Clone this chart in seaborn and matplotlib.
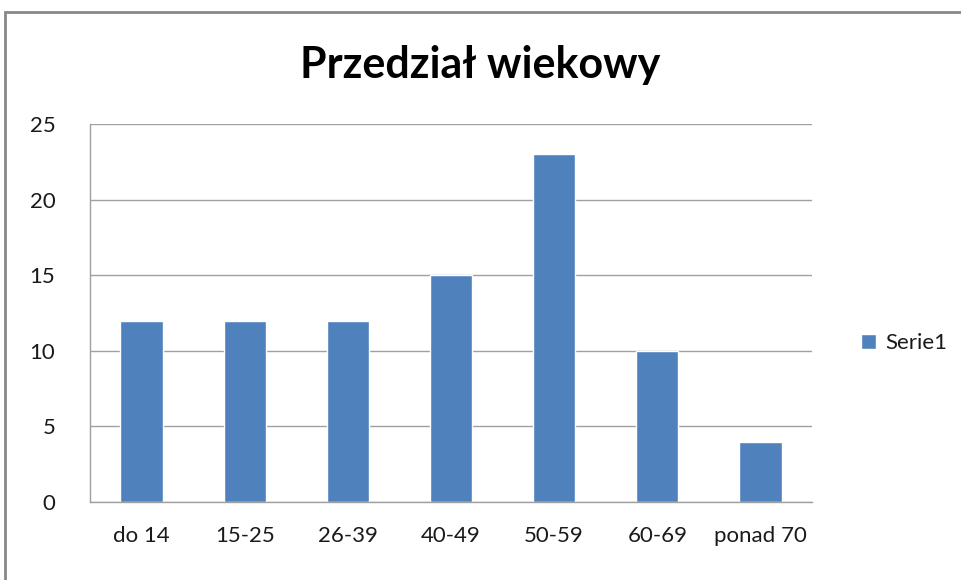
import matplotlib
matplotlib.use("Agg")
import matplotlib.pyplot as plt
import seaborn as sns
import pandas as pd
from matplotlib.patches import Rectangle

# data
categories = ['do 14', '15-25', '26-39', '40-49', '50-59', '60-69', 'ponad 70']
values = [12, 12, 12, 15, 23, 10, 4]
series_name = 'Serie1'

df = pd.DataFrame({'kategoria': categories, 'wartosc': values, 'seria': series_name})

sns.set_style('white')
plt.rcParams['font.family'] = ['Lato', 'DejaVu Sans']

fig = plt.figure(figsize=(9.61, 5.80), dpi=100)
ax = fig.add_axes([90 / 961, 1 - 502 / 580, (812 - 90) / 961, (502 - 124) / 580])

sns.barplot(data=df, x='kategoria', y='wartosc', hue='seria', palette=['#4F81BD'],
            width=0.41, ax=ax, saturation=1)

ax.set_ylim(0, 25)
ax.set_yticks([0, 5, 10, 15, 20, 25])
ax.yaxis.grid(True, color='#A0A0A0', linewidth=1)
ax.set_axisbelow(True)
ax.set_xlabel('')
ax.set_ylabel('')
ax.tick_params(axis='both', length=0, labelsize=16, colors='#1a1a1a')
ax.tick_params(axis='y', pad=25)
ax.tick_params(axis='x', pad=17)
for s in ['top', 'right']:
    ax.spines[s].set_visible(False)
for s in ['left', 'bottom']:
    ax.spines[s].set_color('#A0A0A0')
    ax.spines[s].set_linewidth(1)

leg = ax.legend(loc='center left', bbox_to_anchor=(1.04, 0.42), frameon=False,
                fontsize=16, handlelength=0.7, handleheight=0.7, handletextpad=0.4)
for t in leg.get_texts():
    t.set_color('#1a1a1a')

fig.text(0.5, 1 - 65 / 580, 'Przedział wiekowy', ha='center', va='center',
         fontsize=31, fontweight='bold', color='black')

# chart border
fig.patches.append(Rectangle((5 / 961, -0.1), 1.2, 1 - 12 / 580 + 0.1,
                             transform=fig.transFigure, fill=False,
                             edgecolor='#888888', linewidth=2))

fig.savefig('out.png', dpi=100)
